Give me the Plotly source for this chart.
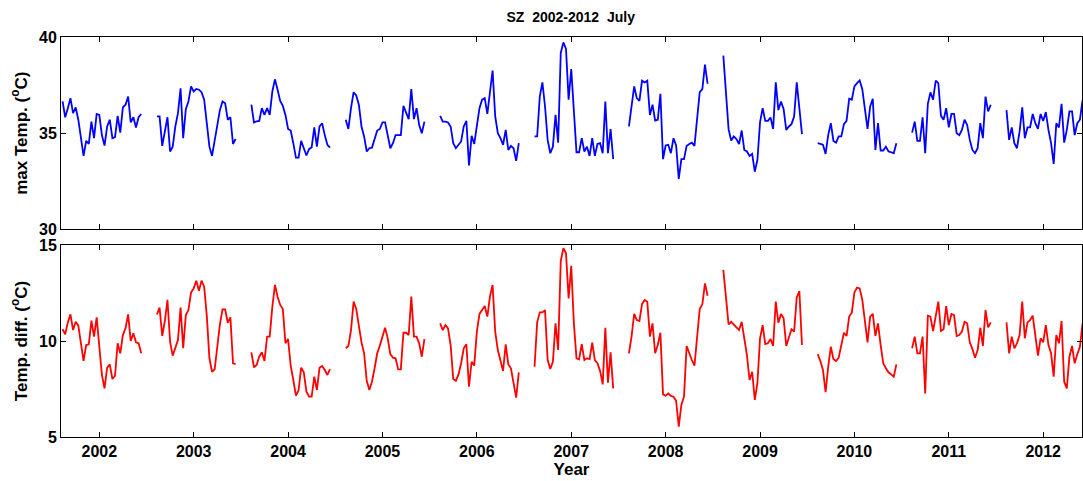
import plotly.graph_objects as go

years = [2002, 2003, 2004, 2005, 2006, 2007, 2008, 2009, 2010, 2011, 2012]
days = list(range(1, 32))
tick_labels = [str(y) for y in years]

# Daily maximum temperature in July (degC)
tmax_2002 = [36.65, 35.83, 36.3, 36.82, 36.04, 36.34, 35.7, 34.83, 33.82, 34.6, 34.44, 35.6, 34.74, 36.0, 35.95, 34.9,
             34.36, 35.35, 35.7, 34.74, 34.8, 35.9, 35.03, 36.34, 36.48, 36.9, 35.56, 35.83, 35.3, 35.83, 36.0]
tmax_2003 = [35.87, 35.87, 34.34, 35.0, 35.83, 34.05, 34.3, 35.35, 36.04, 37.33, 34.74, 36.25, 36.65, 37.43, 37.17, 37.3,
             37.26, 37.13, 36.74, 35.52, 34.3, 33.82, 34.65, 35.6, 36.2, 36.65, 36.56, 35.7, 35.83, 34.44, 34.7]
tmax_2004 = [36.48, 35.56, 35.62, 35.64, 36.3, 35.95, 36.3, 35.95, 37.17, 37.8, 37.26, 36.68, 36.42, 35.95, 35.22, 35.14,
             34.48, 33.73, 33.73, 34.6, 34.22, 33.84, 34.17, 34.27, 35.3, 34.3, 35.35, 35.52, 34.9, 34.4, 34.25]
tmax_2005 = [35.7, 35.22, 36.3, 37.13, 36.96, 36.48, 35.35, 34.83, 34.05, 34.22, 34.25, 34.65, 35.14, 35.22, 35.56, 35.56,
             34.86, 34.22, 34.48, 34.9, 34.9, 34.9, 36.42, 36.04, 35.73, 37.29, 35.73, 36.3, 35.43, 35.0, 35.6]
tmax_2006 = [35.9, 35.6, 35.6, 35.56, 35.35, 34.48, 34.22, 34.4, 34.57, 35.35, 35.64, 33.32, 34.86, 34.44, 35.35, 36.3,
             36.74, 36.82, 36.0, 37.17, 38.25, 35.87, 35.0, 34.74, 34.4, 35.17, 34.13, 34.34, 34.22, 33.56, 34.48]
tmax_2007 = [34.83, 34.83, 36.9, 37.64, 36.39, 34.65, 33.96, 34.3, 35.95, 34.51, 39.17, 39.72, 39.38, 36.74, 38.33, 36.04,
             34.01, 34.01, 34.74, 34.05, 34.3, 33.82, 34.74, 33.82, 34.44, 34.48, 33.96, 36.65, 33.96, 35.21, 33.66]
tmax_2008 = [35.35, 36.39, 37.43, 36.82, 36.68, 37.73, 37.64, 37.73, 35.95, 36.48, 35.66, 35.7, 37.05, 33.65, 34.36, 34.4,
             33.96, 34.74, 34.36, 32.62, 33.65, 33.65, 34.34, 34.44, 34.51, 34.34, 35.87, 37.13, 37.29, 38.56, 37.57]
tmax_2009 = [39.03, 37.26, 35.21, 34.62, 34.83, 34.69, 34.44, 35.14, 34.13, 34.05, 33.82, 33.92, 33.0, 33.61, 35.56, 36.3,
             35.64, 35.64, 35.82, 35.22, 37.64, 36.2, 36.65, 36.25, 35.17, 35.35, 35.47, 35.87, 37.64, 36.3, 34.95]
tmax_2010 = [34.48, 34.44, 34.4, 33.92, 34.9, 35.52, 34.6, 34.51, 34.83, 34.83, 35.47, 35.64, 36.79, 36.74, 37.43, 37.6,
             37.74, 37.29, 36.3, 35.22, 36.39, 36.79, 34.13, 35.52, 34.1, 34.1, 34.3, 34.05, 34.01, 33.96, 34.48]
tmax_2011 = [35.03, 35.6, 34.6, 34.6, 35.83, 33.96, 36.53, 37.12, 36.74, 37.73, 37.6, 35.9, 35.7, 36.3, 35.3, 36.0,
             36.0, 35.0, 34.9, 35.17, 35.7, 35.43, 34.65, 34.13, 33.96, 34.22, 35.52, 34.74, 36.9, 36.13, 36.48]
tmax_2012 = [36.2, 34.65, 35.3, 34.48, 34.22, 35.09, 36.34, 34.74, 35.3, 35.3, 36.0, 35.52, 35.22, 36.0, 35.64, 36.1,
             35.17, 34.48, 33.4, 35.52, 35.3, 36.53, 34.51, 35.17, 36.13, 36.13, 34.9, 35.52, 35.7, 36.7, 36.5]

# Daily temperature difference in July (degC)
tdiff_2002 = [10.61, 10.35, 10.97, 11.39, 10.57, 11.0, 10.8, 9.93, 8.96, 9.79, 9.83, 11.06, 10.23, 11.23, 9.79, 8.23,
              7.53, 8.61, 8.78, 8.02, 8.19, 9.88, 9.36, 10.31, 10.66, 11.39, 10.0, 10.4, 9.93, 9.88, 9.36]
tdiff_2003 = [11.39, 11.74, 10.26, 11.04, 12.14, 9.97, 9.24, 9.7, 10.05, 11.74, 9.62, 11.35, 11.61, 12.53, 12.74, 13.14,
              12.62, 13.14, 12.83, 11.32, 9.1, 8.4, 8.52, 9.7, 10.87, 11.65, 11.65, 10.95, 11.23, 8.84, 8.8]
tdiff_2004 = [9.41, 8.63, 8.75, 9.18, 9.41, 8.96, 10.23, 10.23, 11.79, 12.92, 12.31, 11.88, 11.67, 9.88, 10.1, 8.72,
              7.97, 7.15, 7.43, 8.61, 8.37, 7.36, 7.1, 7.1, 8.14, 7.45, 8.61, 8.7, 8.49, 8.23, 8.54]
tdiff_2005 = [9.62, 9.74, 10.57, 12.05, 11.67, 10.83, 9.93, 9.36, 7.93, 7.45, 7.88, 8.58, 9.36, 9.76, 10.17, 10.69,
              10.14, 9.32, 9.13, 9.1, 8.52, 8.52, 10.43, 10.43, 10.31, 12.31, 10.23, 10.23, 9.88, 9.18, 10.1]
tdiff_2006 = [10.92, 10.57, 10.83, 10.66, 9.79, 8.02, 7.92, 8.26, 8.84, 9.62, 9.83, 7.62, 8.92, 8.72, 10.49, 11.41,
              11.61, 11.82, 11.27, 12.31, 12.92, 10.49, 9.53, 8.92, 8.44, 9.83, 8.78, 8.58, 7.88, 7.05, 8.37]
tdiff_2007 = [8.66, 10.97, 11.49, 11.49, 11.61, 9.01, 8.54, 8.92, 10.92, 9.53, 14.17, 14.83, 14.57, 12.22, 13.92, 10.92,
              9.1, 9.05, 9.83, 9.01, 9.1, 9.06, 9.91, 9.01, 8.84, 8.44, 7.74, 10.69, 7.83, 9.41, 7.53]
tdiff_2008 = [9.36, 10.23, 11.41, 11.09, 11.04, 11.93, 12.14, 12.05, 10.23, 10.92, 9.36, 9.79, 10.43, 7.22, 7.15, 7.27,
              7.14, 7.1, 6.89, 5.54, 6.67, 7.1, 9.74, 9.36, 9.01, 8.72, 10.31, 11.67, 11.91, 13.0, 12.36]
tdiff_2009 = [13.7, 12.31, 10.87, 11.0, 10.87, 10.75, 10.57, 11.0, 10.05, 9.27, 7.97, 8.4, 6.93, 7.8, 10.14, 10.83,
              9.84, 9.88, 10.1, 9.74, 12.05, 10.95, 11.41, 11.18, 9.74, 10.23, 10.61, 10.49, 12.27, 12.6, 9.79]
tdiff_2010 = [9.32, 8.96, 8.49, 7.33, 8.66, 9.7, 9.05, 8.96, 9.13, 9.79, 10.43, 10.26, 11.27, 11.48, 12.53, 12.78,
              12.74, 12.14, 11.09, 9.93, 11.27, 11.41, 10.26, 10.92, 9.79, 8.84, 8.58, 8.37, 8.26, 8.14, 8.78]
tdiff_2011 = [9.62, 10.23, 9.36, 9.36, 10.23, 7.27, 11.32, 11.27, 10.52, 11.35, 12.05, 10.52, 10.61, 11.82, 10.83, 11.41,
              11.35, 10.26, 10.31, 10.49, 11.0, 10.92, 9.93, 9.58, 9.13, 9.53, 10.69, 9.74, 11.61, 10.71, 10.97]
tdiff_2012 = [10.97, 9.36, 10.23, 9.62, 9.88, 10.31, 12.05, 10.14, 10.97, 11.09, 11.32, 10.4, 9.24, 10.14, 9.93, 10.83,
              9.79, 9.36, 8.14, 10.31, 9.88, 11.04, 7.88, 7.53, 9.18, 9.74, 8.84, 9.31, 9.7, 10.9, 10.5]

tmax_by_year = [tmax_2002, tmax_2003, tmax_2004, tmax_2005, tmax_2006, tmax_2007,
                tmax_2008, tmax_2009, tmax_2010, tmax_2011, tmax_2012]
tdiff_by_year = [tdiff_2002, tdiff_2003, tdiff_2004, tdiff_2005, tdiff_2006, tdiff_2007,
                 tdiff_2008, tdiff_2009, tdiff_2010, tdiff_2011, tdiff_2012]

# Each July is placed around its year tick (day 15 on the tick), with a gap between years
x, y_max, y_diff = [], [], []
for yr, vmax, vdiff in zip(years, tmax_by_year, tdiff_by_year):
    for d, a, b in zip(days, vmax, vdiff):
        x.append(yr + (d - 15) / 36.0)
        y_max.append(a)
        y_diff.append(b)
    x.append(None)
    y_max.append(None)
    y_diff.append(None)

FONT = "Liberation Sans, Arial, Helvetica, sans-serif"

fig = go.Figure()
fig.add_trace(go.Scatter(x=x, y=y_max, mode="lines", line=dict(color="#0000FF", width=1.8),
                         connectgaps=False, xaxis="x", yaxis="y", showlegend=False, hoverinfo="skip"))
fig.add_trace(go.Scatter(x=x, y=y_diff, mode="lines", line=dict(color="#FF0000", width=1.8),
                         connectgaps=False, xaxis="x2", yaxis="y2", showlegend=False, hoverinfo="skip"))

xr = [2002 - 0.4056, 2012 + 0.411]
common = dict(showline=True, linecolor="black", linewidth=1, mirror="ticks", ticks="inside",
              ticklen=5, tickwidth=1, tickcolor="black", showgrid=False, zeroline=False,
              tickfont=dict(family=FONT, size=16, color="black", weight="bold"))

fig.update_layout(
    width=1083, height=481,
    margin=dict(l=61, r=1, t=37, b=44),
    paper_bgcolor="white", plot_bgcolor="white",
    title=dict(text="SZ  2002-2012  July", x=0.527, xanchor="center", y=1 - 17 / 481, yanchor="middle",
               yref="container",
               font=dict(family=FONT, size=14, color="black", weight="bold")),
    xaxis=dict(domain=[0, 1], range=xr, anchor="y", tickvals=years, ticktext=tick_labels,
               showticklabels=False, **common),
    yaxis=dict(domain=[0.519, 1.0], range=[30, 40], tickvals=[30, 35, 40], anchor="x",
               title=dict(text="max Temp. (<sup>o</sup>C)", standoff=7,
                          font=dict(family=FONT, size=17, color="black", weight="bold")),
               **common),
    xaxis2=dict(domain=[0, 1], range=xr, anchor="y2", tickvals=years, ticktext=tick_labels,
                title=dict(text="Year", standoff=1,
                           font=dict(family=FONT, size=17, color="black", weight="bold")),
                **common),
    yaxis2=dict(domain=[0, 0.48], range=[5, 15], tickvals=[5, 10, 15], anchor="x2",
                title=dict(text="Temp. diff. (<sup>o</sup>C)", standoff=7,
                           font=dict(family=FONT, size=17, color="black", weight="bold")),
                **common),
)

fig.write_html("out.html", config={"displayModeBar": False},
               post_script="document.body.style.margin='0';")
